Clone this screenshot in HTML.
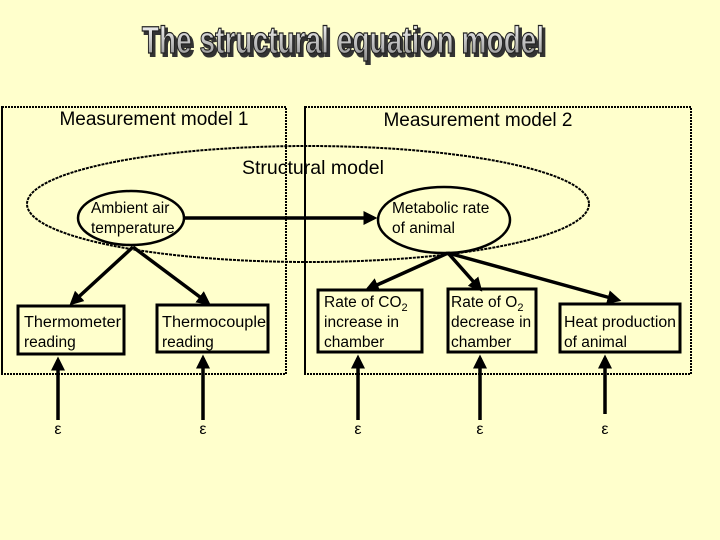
<!DOCTYPE html>
<html><head><meta charset="utf-8"><style>
html,body{margin:0;padding:0;background:#ffffcc;}
svg{display:block;}
text{font-family:"Liberation Sans",sans-serif;}
</style></head><body>
<svg width="720" height="540" viewBox="0 0 720 540" xmlns="http://www.w3.org/2000/svg">
<defs>
<linearGradient id="g" x1="0" y1="0" x2="0" y2="1"><stop offset="0" stop-color="#ffffff"/><stop offset="1" stop-color="#888"/></linearGradient>
<marker id="b" markerWidth="4" markerHeight="4" refX="3" refY="2" orient="auto" markerUnits="strokeWidth"><path d="M0,0 L4,2 L0,4 z" fill="#000"/></marker>
</defs>
<rect width="720" height="540" fill="#ffffcc"/>
<!-- title -->
<g transform="translate(343,53) scale(0.78,1.05)">
<text x="3" y="3" text-anchor="middle" font-size="36" font-weight="bold" fill="#333" stroke="#333" stroke-width="2">The structural equation model</text>
<text x="0" y="0" text-anchor="middle" font-size="36" font-weight="bold" fill="url(#g)" stroke="#222" stroke-width="1.2">The structural equation model</text>
</g>
<!-- measurement boxes -->
<rect x="2" y="107" width="284" height="267" fill="none" stroke="#000" stroke-width="2" stroke-dasharray="2,1"/>
<line x1="2" y1="107" x2="2" y2="374" stroke="#000" stroke-width="2"/>
<rect x="305" y="107" width="386" height="267" fill="none" stroke="#000" stroke-width="2" stroke-dasharray="2,1"/>
<line x1="305" y1="107" x2="305" y2="374" stroke="#000" stroke-width="2"/>
<text x="154" y="125" text-anchor="middle" font-size="19">Measurement model 1</text>
<text x="478" y="126" text-anchor="middle" font-size="19">Measurement model 2</text>
<!-- big ellipse -->
<ellipse cx="308" cy="204" rx="281" ry="58" fill="none" stroke="#000" stroke-width="2" stroke-dasharray="3,1"/>
<text x="313" y="174" text-anchor="middle" font-size="19.5">Structural model</text>
<!-- latent ellipses -->
<ellipse cx="131" cy="218" rx="53" ry="27" fill="none" stroke="#000" stroke-width="2.5"/>
<text x="91" y="213" font-size="15.5">Ambient air</text>
<text x="91" y="233" font-size="15.5">temperature</text>
<ellipse cx="444" cy="220" rx="66" ry="33" fill="none" stroke="#000" stroke-width="2.5"/>
<text x="392" y="213" font-size="15.5">Metabolic rate</text>
<text x="392" y="233" font-size="15.5">of animal</text>
<line x1="185" y1="218" x2="374" y2="218" stroke="#000" stroke-width="3.5" marker-end="url(#b)"/>
<!-- loadings -->
<g stroke="#000" stroke-width="3.5" marker-end="url(#b)">
<line x1="133" y1="247" x2="72" y2="303"/>
<line x1="133" y1="247" x2="208" y2="303"/>
<line x1="448" y1="253" x2="368" y2="289"/>
<line x1="448" y1="253" x2="480" y2="289"/>
<line x1="448" y1="253" x2="618" y2="300"/>
</g>
<!-- boxes -->
<g fill="none" stroke="#000" stroke-width="3">
<rect x="18" y="306" width="106" height="48"/>
<rect x="157" y="305" width="111" height="47"/>
<rect x="318" y="290" width="104" height="62"/>
<rect x="448" y="289" width="88" height="63"/>
<rect x="560" y="304" width="120" height="48"/>
</g>
<g font-size="15.5">
<text x="24" y="327" textLength="97" lengthAdjust="spacingAndGlyphs">Thermometer</text><text x="24" y="347">reading</text>
<text x="162" y="327" textLength="104" lengthAdjust="spacingAndGlyphs">Thermocouple</text><text x="162" y="347">reading</text>
<text x="324" y="307">Rate of CO<tspan font-size="11" dy="4">2</tspan></text><text x="324" y="327">increase in</text><text x="324" y="347">chamber</text>
<text x="451" y="307">Rate of O<tspan font-size="11" dy="4">2</tspan></text><text x="451" y="327">decrease in</text><text x="451" y="347">chamber</text>
<text x="564" y="327" textLength="112" lengthAdjust="spacingAndGlyphs">Heat production</text><text x="564" y="347">of animal</text>
</g>
<!-- error arrows -->
<g stroke="#000" stroke-width="3.5" marker-end="url(#b)">
<line x1="58" y1="420" x2="58" y2="360"/>
<line x1="203" y1="420" x2="203" y2="358"/>
<line x1="358" y1="420" x2="358" y2="358"/>
<line x1="480" y1="420" x2="480" y2="358"/>
<line x1="605" y1="414" x2="605" y2="358"/>
</g>
<g font-size="16" text-anchor="middle">
<text x="58" y="434">ε</text><text x="203" y="434">ε</text><text x="358" y="434">ε</text><text x="480" y="434">ε</text><text x="605" y="434">ε</text>
</g>
</svg>
</body></html>
